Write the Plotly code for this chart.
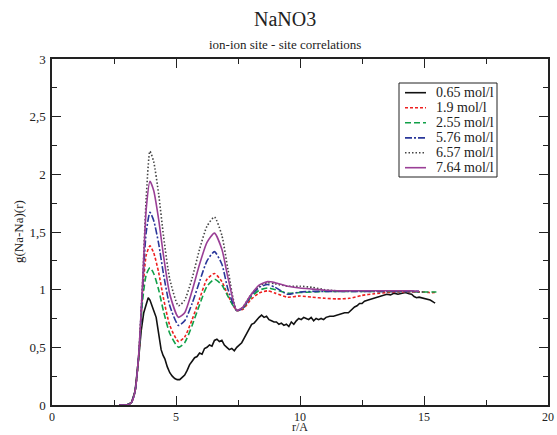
import plotly.graph_objects as go

# ---------------- data ----------------
r_grid = [2.7, 3.0, 3.2, 3.35, 3.5, 3.65, 3.8, 3.95, 4.1, 4.3, 4.5, 4.75, 5.1,
          5.35, 5.65, 5.95, 6.25, 6.55, 6.85, 7.1, 7.45, 7.7, 8.0, 8.35, 8.7,
          9.0, 9.5, 10.0, 10.5, 11.0, 11.5, 12.0, 12.5, 13.0, 13.5, 14.0, 14.5,
          14.8, 15.0, 15.2, 15.5]

g_190 = [0, 0, 0.02, 0.12, 0.43, 0.95, 1.30, 1.38, 1.32, 1.15, 0.92, 0.69, 0.55,
         0.59, 0.74, 0.92, 1.09, 1.14, 1.07, 0.95, 0.82, 0.83, 0.91, 0.97, 0.99,
         0.97, 0.935, 0.945, 0.935, 0.925, 0.92, 0.925, 0.95, 0.965, 0.975, 0.98, 0.98,
         0.98, 0.98, 0.975, 0.975]
g_255 = [0, 0, 0.02, 0.12, 0.43, 0.90, 1.13, 1.19, 1.14, 1.00, 0.81, 0.62, 0.50,
         0.54, 0.69, 0.87, 1.03, 1.09, 1.04, 0.94, 0.82, 0.84, 0.93, 0.995, 1.015,
         1.0, 0.97, 0.975, 0.98, 0.985, 0.985, 0.985, 0.985, 0.985, 0.985, 0.985, 0.985,
         0.98, 0.98, 0.98, 0.98]
g_576 = [0, 0, 0.02, 0.12, 0.44, 1.00, 1.50, 1.67, 1.60, 1.40, 1.13, 0.86, 0.69,
         0.73, 0.88, 1.07, 1.25, 1.33, 1.22, 1.0, 0.82, 0.84, 0.94, 1.02, 1.045,
         1.02, 0.96, 0.98, 0.985, 0.985, 0.985, 0.985, 0.985, 0.985, 0.985, 0.985, 0.985,
         0.985]
g_657 = [0, 0, 0.02, 0.12, 0.45, 1.05, 1.80, 2.20, 2.11, 1.83, 1.46, 1.09, 0.86,
         0.91, 1.10, 1.35, 1.55, 1.63, 1.47, 1.17, 0.82, 0.85, 0.95, 1.03, 1.06,
         1.05, 1.03, 1.03, 1.02, 1.0, 0.99, 0.99, 0.99, 0.99, 0.985, 0.985, 0.985,
         0.98, 0.98]
g_764 = [0, 0, 0.02, 0.12, 0.45, 1.05, 1.70, 1.94, 1.86, 1.61, 1.29, 0.96, 0.76,
         0.80, 0.99, 1.22, 1.41, 1.49, 1.35, 1.10, 0.82, 0.85, 0.95, 1.04, 1.07,
         1.06, 1.03, 1.015, 1.005, 0.995, 0.99, 0.99, 0.99, 0.99, 0.99, 0.99, 0.99,
         0.985]

r_065 = [2.7, 3.0, 3.2, 3.35, 3.5, 3.6, 3.7, 3.8, 3.88, 3.95, 4.02, 4.1, 4.2, 4.3,
         4.4, 4.48, 4.55, 4.65, 4.75, 4.85, 4.95, 5.05, 5.15, 5.25, 5.35, 5.45,
         5.55, 5.65, 5.75, 5.85, 5.95, 6.05, 6.15, 6.25, 6.35, 6.45, 6.55, 6.65,
         6.75, 6.85, 6.95, 7.05, 7.15, 7.25, 7.35, 7.45, 7.55, 7.65, 7.75, 7.85,
         7.95, 8.05, 8.15, 8.25, 8.35, 8.45, 8.55, 8.65, 8.75, 8.85, 8.95, 9.05,
         9.15, 9.25, 9.35, 9.45, 9.55, 9.65, 9.75, 9.85, 9.95, 10.05, 10.15, 10.25,
         10.35, 10.45, 10.55, 10.65, 10.75, 10.85, 10.95, 11.05, 11.2, 11.35, 11.5,
         11.65, 11.8, 11.95, 12.1, 12.2, 12.3, 12.4, 12.5, 12.6, 12.75, 12.9, 13.05,
         13.2, 13.35, 13.5, 13.65, 13.8, 13.95, 14.1, 14.25, 14.4, 14.5, 14.6, 14.7,
         14.8, 14.95, 15.1, 15.25, 15.4, 15.45]
g_065 = [0, 0, 0.02, 0.12, 0.42, 0.65, 0.80, 0.88, 0.93, 0.91, 0.86, 0.82, 0.76, 0.62,
         0.48, 0.43, 0.40, 0.33, 0.28, 0.25, 0.23, 0.22, 0.22, 0.24, 0.26, 0.30,
         0.35, 0.38, 0.41, 0.42, 0.45, 0.44, 0.49, 0.50, 0.52, 0.51, 0.56, 0.57,
         0.55, 0.56, 0.52, 0.50, 0.48, 0.49, 0.47, 0.50, 0.52, 0.54, 0.58, 0.62,
         0.67, 0.70, 0.71, 0.74, 0.76, 0.78, 0.76, 0.77, 0.74, 0.73, 0.72, 0.72,
         0.70, 0.71, 0.69, 0.70, 0.68, 0.72, 0.70, 0.73, 0.75, 0.74, 0.76, 0.75,
         0.74, 0.76, 0.73, 0.75, 0.74, 0.75, 0.74, 0.76, 0.77, 0.77, 0.78,
         0.79, 0.80, 0.80, 0.83, 0.85, 0.86, 0.88, 0.88, 0.90, 0.91, 0.92, 0.93,
         0.94, 0.95, 0.96, 0.955, 0.97, 0.96, 0.97, 0.975, 0.965, 0.96, 0.94, 0.93,
         0.935, 0.925, 0.92, 0.91, 0.89, 0.885]

labels = ["0.65 mol/l", "1.9 mol/l", "2.55 mol/l", "5.76 mol/l", "6.57 mol/l", "7.64 mol/l"]
colors = ["#111111", "#ee2020", "#10a048", "#2a379a", "#444444", "#9a3f96"]
dashes = ["solid", "3px,2px", "6px,3px", "7px,2px,2px,2px", "1.5px,2px", "solid"]

series = [(r_065, g_065), (r_grid, g_190), (r_grid, g_255),
          (r_grid[:len(g_576)], g_576), (r_grid[:len(g_657)], g_657),
          (r_grid[:len(g_764)], g_764)]

FONT = "'Liberation Serif', 'Times New Roman', Times, serif"
TXT = "#222222"

# plot area in pixels (for legend box placement)
L, R, T, B = 52, 548, 59, 405
W_, H_ = R - L, B - T


def px2paper(x, y):
    return (x - L) / W_, (B - y) / H_


fig = go.Figure()
for (rx, gy), name, col, dsh in zip(series, labels, colors, dashes):
    fig.add_trace(go.Scatter(
        x=rx, y=gy, mode="lines", name=name, showlegend=False,
        line=dict(color=col, width=1.6, dash=dsh,
                  shape="linear" if name.startswith("0.65") else "spline",
                  smoothing=0.6),
    ))

# legend drawn as a boxed key (sample line + label), matching the reference layout
shapes = []
annotations = []
bx0, by0 = px2paper(399, 177)
bx1, by1 = px2paper(497, 83)
shapes.append(dict(type="rect", xref="paper", yref="paper", x0=bx0, y0=by0, x1=bx1, y1=by1,
                   line=dict(color=TXT, width=1), fillcolor="white", layer="above"))
row_y = [92.7, 107.7, 122.7, 137.9, 152.7, 167.7]
for yy, name, col, dsh in zip(row_y, labels, colors, dashes):
    x0, y0 = px2paper(405, yy)
    x1, _ = px2paper(426, yy)
    shapes.append(dict(type="line", xref="paper", yref="paper", x0=x0, y0=y0, x1=x1, y1=y0,
                       line=dict(color=col, width=1.6, dash=dsh), layer="above"))
    tx, _ = px2paper(434, yy)
    annotations.append(dict(text=name, x=tx, y=y0, xref="paper", yref="paper",
                            xanchor="left", yanchor="middle", showarrow=False,
                            font=dict(family=FONT, size=14, color=TXT)))

xt_x, xt_y = px2paper(300, 435)
yt_x, yt_y = px2paper(18, 232)
annotations += [
    dict(text="NaNO3", x=0.47, y=1, xref="paper", yref="paper", yanchor="bottom", yshift=27,
         showarrow=False, font=dict(family=FONT, size=20, color=TXT)),
    dict(text="ion-ion site - site correlations", x=0.47, y=1, xref="paper", yref="paper",
         yanchor="bottom", yshift=5, showarrow=False,
         font=dict(family=FONT, size=13, color=TXT)),
    dict(text="r/A", x=xt_x, y=xt_y, xref="paper", yref="paper", xanchor="center",
         yanchor="bottom", borderpad=0, showarrow=False,
         font=dict(family=FONT, size=12, color=TXT)),
    dict(text="g(Na-Na)(r)", x=yt_x, y=yt_y, xref="paper", yref="paper", xanchor="center",
         yanchor="middle", textangle=-90, showarrow=False,
         font=dict(family=FONT, size=13, color=TXT)),
]

axis_common = dict(
    showgrid=False, zeroline=False, showline=True, linecolor=TXT, linewidth=1.5,
    mirror="allticks", ticks="inside", ticklen=9, tickwidth=1, tickcolor=TXT,
    automargin=False,
)

fig.update_layout(
    width=557, height=435,
    margin=dict(l=L, r=557 - R, t=T, b=435 - B, autoexpand=False),
    paper_bgcolor="white", plot_bgcolor="white",
    separators=", ",
    showlegend=False,
    font=dict(family=FONT, size=13, color=TXT),
    xaxis=dict(range=[0, 20], tickvals=[0, 5, 10, 15, 20], ticklabelstandoff=0,
               tickfont=dict(family=FONT, size=12, color=TXT),
               minor=dict(tickvals=[2.5, 7.5, 12.5, 17.5], ticks="inside", ticklen=5,
                          tickcolor=TXT),
               **axis_common),
    yaxis=dict(range=[0, 3], tickvals=[0, 0.5, 1, 1.5, 2, 2.5, 3], ticklabelstandoff=2,
               tickfont=dict(family=FONT, size=13, color=TXT),
               minor=dict(tickvals=[0.25, 0.75, 1.25, 1.75, 2.25, 2.75], ticks="inside",
                          ticklen=5, tickcolor=TXT),
               **axis_common),
    shapes=shapes,
    annotations=annotations,
)

fig.write_html("out.html")
